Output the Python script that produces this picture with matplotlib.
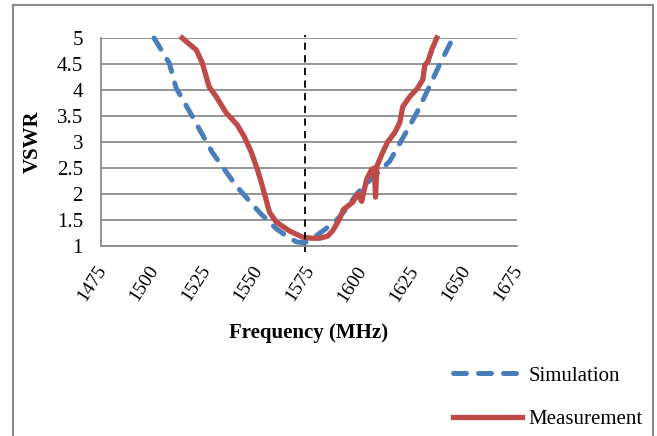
import numpy as np
import matplotlib
matplotlib.use('Agg')
from matplotlib import pyplot as plt
from matplotlib.patches import Rectangle
from matplotlib.transforms import ScaledTranslation

# データ
sim_freq = [1500.5, 1507.8, 1511.1, 1519.8, 1528.5, 1540.1, 1551.1, 1559.3, 1565.0,
            1569.0, 1572.8, 1578.6, 1583.0, 1588.3, 1593.1, 1597.9, 1603.2, 1609.0,
            1613.8, 1621.0, 1626.8, 1632.1, 1637.9, 1644.2]
sim_vswr = [5.0, 4.52, 4.04, 3.43, 2.8, 2.15, 1.65, 1.33, 1.17,
            1.08, 1.06, 1.2, 1.33, 1.5, 1.72, 2.0, 2.22, 2.44,
            2.63, 3.14, 3.56, 4.0, 4.5, 5.0]

meas_freq = [1514.0, 1520.8, 1523.7, 1527.0, 1530.4, 1535.2, 1540.5, 1543.9, 1547.3,
             1550.2, 1552.6, 1556.0, 1559.3, 1565.6, 1571.9, 1576.0, 1580.1, 1584.0,
             1586.5, 1589.7, 1591.5, 1596.0, 1598.4, 1600.3, 1602.7, 1605.1, 1606.4,
             1607.0, 1607.6, 1610.4, 1612.8, 1616.2, 1618.6, 1620.1, 1623.4, 1627.3,
             1629.7, 1630.7, 1632.1, 1634.0, 1636.4]
meas_vswr = [5.0, 4.77, 4.52, 4.06, 3.87, 3.56, 3.33, 3.1, 2.8,
             2.47, 2.15, 1.65, 1.46, 1.29, 1.17, 1.15, 1.15, 1.19,
             1.3, 1.52, 1.7, 1.84, 2.0, 1.86, 2.28, 2.47, 2.5,
             1.94, 2.53, 2.8, 3.0, 3.18, 3.37, 3.68, 3.87, 4.04,
             4.2, 4.48, 4.54, 4.77, 5.0]

center_freq = 1573
x_ticks = [1475, 1500, 1525, 1550, 1575, 1600, 1625, 1650, 1675]
y_ticks = [1, 1.5, 2, 2.5, 3, 3.5, 4, 4.5, 5]
y_labels = ['1', '1.5', '2', '2.5', '3', '3.5', '4', '4.5', '5']

plt.rcParams['font.family'] = ['Liberation Serif', 'DejaVu Serif']
plt.rcParams['font.size'] = 15

fig = plt.figure(figsize=(6.57, 4.36), dpi=100)
ax = fig.add_axes([101/657, 1-246/436, (517-101)/657, (246-38)/436])

# 外枠
fig.patches.append(Rectangle((13/657, -0.1), (653-13)/657, 1.1 - 5/436,
                             transform=fig.transFigure, fill=False,
                             edgecolor='#8a8a8a', lw=1.5))

ax.set_xlim(1475, 1675)
ax.set_ylim(1, 5)
ax.set_xticks(x_ticks)
ax.set_yticks(y_ticks)
ax.set_yticklabels(y_labels)
ax.tick_params(axis='both', length=0)
ax.tick_params(axis='y', pad=13)
ax.tick_params(axis='x', pad=12, labelsize=14)
for lab in ax.get_xticklabels():
    lab.set_rotation(57)
    lab.set_ha('right')
    lab.set_va('top')
    lab.set_transform(lab.get_transform() + ScaledTranslation(9/100, 0, fig.dpi_scale_trans))

ax.grid(axis='y', color='#8c8c8c', lw=1.3)
ax.set_axisbelow(True)
for s in ['top', 'right']:
    ax.spines[s].set_visible(False)
for s in ['left', 'bottom']:
    ax.spines[s].set_color('#8c8c8c')
    ax.spines[s].set_linewidth(1.3)

l1, = ax.plot(sim_freq, sim_vswr, color='#4A7EBB', lw=3.6, label='Simulation',
              dash_capstyle='round', clip_on=False)
l1.set_dashes((2.6, 2.4))
l2, = ax.plot(meas_freq, meas_vswr, color='#BE4B48', lw=3.8, label='Measurement',
              solid_joinstyle='round', clip_on=False)

ax.plot([center_freq, center_freq], [0.88, 5.06], color='black', lw=1.3,
        dashes=(4, 3), clip_on=False)

ax.set_xlabel('Frequency (MHz)', fontweight='bold', labelpad=13)
ax.set_ylabel('VSWR', fontweight='bold', labelpad=10)

fig.legend(handles=[l1, l2], loc='center left', frameon=False,
           bbox_to_anchor=(453/657, 1-397.5/436), borderpad=0, borderaxespad=0,
           handlelength=3.3, handletextpad=0.33, labelspacing=1.15)

fig.savefig('out.png', dpi=100)
plt.close()
